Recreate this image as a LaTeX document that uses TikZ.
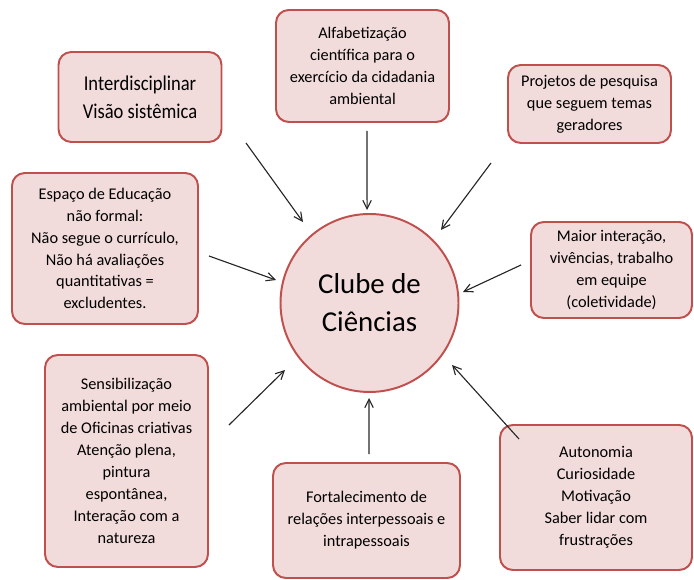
\documentclass[tikz,border=0pt]{standalone}
\usepackage{fontspec}
\setmainfont{Carlito}
\newfontfamily\narrowfont[FakeStretch=0.88]{Carlito}
\usetikzlibrary{calc,arrows.meta}
\definecolor{boxfill}{HTML}{F2DCDB}
\definecolor{boxline}{HTML}{C0504D}
\tikzset{
  box/.style={draw=boxline, fill=boxfill, line width=1.4pt, rounded corners=0.32cm,
    align=center, font=\fontsize{11.6}{15.6}\selectfont, inner sep=2pt},
  hub/.style={draw=boxline, fill=boxfill, line width=1.4pt, circle,
    minimum size=4.45cm, align=center, font=\fontsize{20.5}{27}\selectfont},
  feed/.style={-{Straight Barb[length=6pt,width=6pt]}, draw=black!85, line width=0.8pt}
}
\begin{document}
\begin{tikzpicture}
  \useasboundingbox (0,0) rectangle (17.35,14.5);
  % central hub
  \node[hub] (clube) at (9.2375,6.925) {Clube de\\Ciências};

  % boxes around the hub
  \node[box, minimum width=4.075cm, minimum height=2.25cm, font=\narrowfont\fontsize{15}{20}\selectfont]
    (interdisc) at (3.5,12.075) {Interdisciplinar\\Visão sistêmica};
  \node[box, minimum width=4.325cm, minimum height=2.8cm]
    (alfab) at (9.0625,12.85) {Alfabetização\\científica para o\\exercício da cidadania\\ambiental};
  \node[box, minimum width=4.075cm, minimum height=1.95cm]
    (projetos) at (14.7375,11.9) {Projetos de pesquisa\\que seguem temas\\geradores};
  \node[box, minimum width=4.65cm, minimum height=3.775cm]
    (espaco) at (2.625,8.2875) {Espaço de Educação\\não formal:\\Não segue o currículo,\\Não há avaliações\\quantitativas =\\excludentes.};
  \node[box, minimum width=4.025cm, minimum height=2.4cm]
    (interacao) at (15.2875,7.75) {Maior interação,\\vivências, trabalho\\em equipe\\(coletividade)};
  \node[box, minimum width=4.075cm, minimum height=5.3cm]
    (sensib) at (3.1625,2.975) {Sensibilização\\ambiental por meio\\de Oficinas criativas\\Atenção plena,\\pintura\\espontânea,\\Interação com a\\natureza};
  \node[box, minimum width=4.675cm, minimum height=2.875cm]
    (fortal) at (9.1625,1.4875) {Fortalecimento de\\relações interpessoais e\\intrapessoais};
  \node[box, minimum width=4.8cm, minimum height=3.625cm]
    (autonomia) at (14.9,2.0625) {Autonomia\\Curiosidade\\Motivação\\Saber lidar com\\frustrações};

  % arrows pointing at the hub
  \draw[feed] ([shift={(0.5875,0)}]interdisc.south east) -- ($(clube.center)+(129.4:2.62)$);
  \draw[feed] ([shift={(0.1125,-0.2)}]alfab.south) -- ($(clube.center)+(91.5:2.326)$);
  \draw[feed] ([shift={(-0.4,-0.475)}]projetos.south west) -- ($(clube.center)+(45.6:2.555)$);
  \draw[feed] ([shift={(0.25,-0.1875)}]espaco.east) -- ($(clube.center)+(166.2:2.407)$);
  \draw[feed] ([shift={(-0.225,0.125)}]interacao.west) -- ($(clube.center)+(6.7:2.354)$);
  \draw[feed] ([shift={(0.5,0.9)}]sensib.east) -- ($(clube.center)+(218.4:2.696)$);
  \draw[feed] ([shift={(0.0625,0.2)}]fortal.north) -- ($(clube.center)+(269.7:2.375)$);
  \draw[feed] ([shift={(0.5,-0.375)}]autonomia.north west) -- ($(clube.center)+(-36.9:2.58)$);
\end{tikzpicture}
\end{document}
